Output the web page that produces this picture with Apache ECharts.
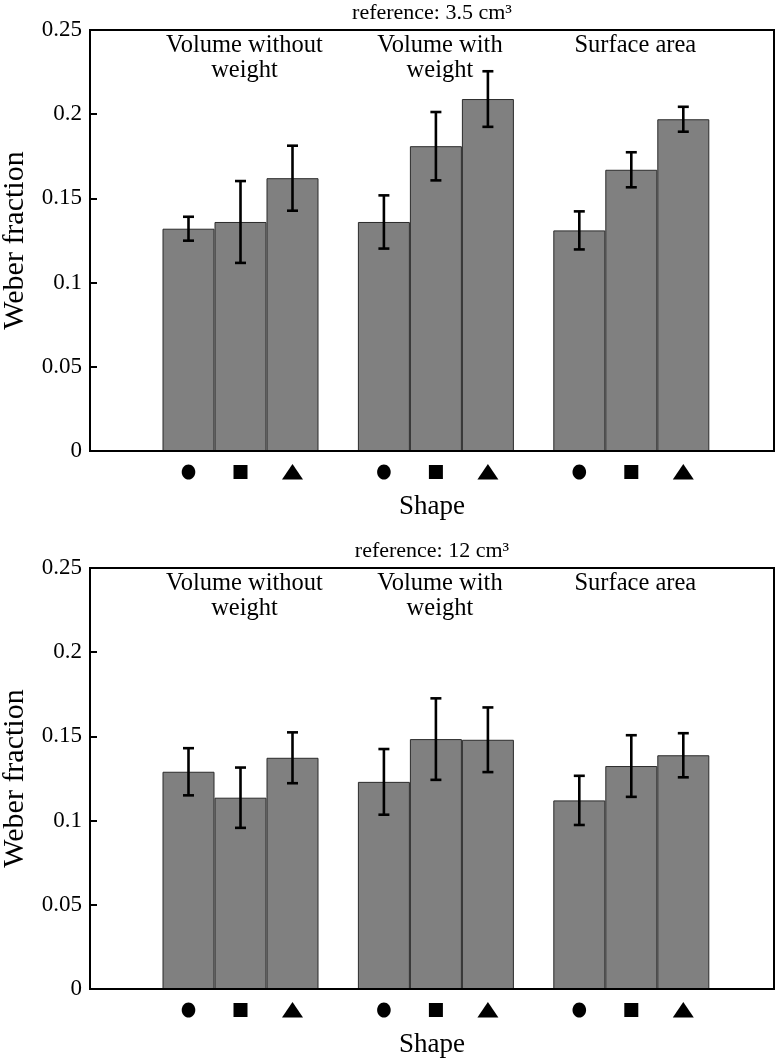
<!DOCTYPE html>
<html>
<head>
<meta charset="utf-8">
<script src="https://cdn.jsdelivr.net/npm/echarts@6/dist/echarts.min.js"></script>
<style>
html,body{margin:0;padding:0;background:#fff;}
#chart{width:776px;height:1062px;}
</style>
</head>
<body>
<div id="chart"></div>
<script>
// ---- data ----
var categories = ['Volume without\nweight', 'Volume with\nweight', 'Surface area'];
var shapes = ['circle', 'square', 'triangle'];
var yTicks = [0, 0.05, 0.1, 0.15, 0.2, 0.25];
var panelTitles = ['reference: 3.5 cm\u00b3', 'reference: 12 cm\u00b3'];
var xTitle = 'Shape';
var yTitle = 'Weber fraction';

// reference 3.5 cm3 : mean per shape across categories
var ref35Circle   = [0.132, 0.136, 0.131];
var ref35Square   = [0.136, 0.181, 0.167];
var ref35Triangle = [0.162, 0.209, 0.197];
var ref35CircleErr   = [0.0071, 0.0158, 0.0113];
var ref35SquareErr   = [0.0243, 0.0203, 0.0104];
var ref35TriangleErr = [0.0193, 0.0165, 0.0074];

// reference 12 cm3
var ref12Circle   = [0.129, 0.123, 0.112];
var ref12Square   = [0.1136, 0.1484, 0.1324];
var ref12Triangle = [0.1373, 0.148, 0.1388];
var ref12CircleErr   = [0.0140, 0.0195, 0.0146];
var ref12SquareErr   = [0.0179, 0.0242, 0.0183];
var ref12TriangleErr = [0.0151, 0.0192, 0.0131];

// ---- layout / style ----
var FONT = 'Liberation Serif';
var BAR_W = 52;
var BOX_L = 90, BOX_W = 684;
var DATA_L = 142.8, DATA_W = 586.2;
var PANEL_TOPS = [30, 568];
var PANEL_H = 421;
var BAR_FILL = '#808080';
var BAR_EDGE = '#2b2b2b';

var panels = [
  {means: [ref35Circle, ref35Square, ref35Triangle], errs: [ref35CircleErr, ref35SquareErr, ref35TriangleErr]},
  {means: [ref12Circle, ref12Square, ref12Triangle], errs: [ref12CircleErr, ref12SquareErr, ref12TriangleErr]}
];

var grids = [], xAxes = [], yAxes = [], series = [], graphics = [];

function errRender(params, api) {
  var g = api.value(0), s = api.value(1), m = api.value(2), e = api.value(3);
  var hi = api.coord([g, m + e]);
  var lo = api.coord([g, m - e]);
  var x = hi[0] + (s - 1) * BAR_W;
  var cap = 5.5;
  var st = {stroke: '#000', lineWidth: 2.6};
  return {
    type: 'group',
    children: [
      {type: 'line', shape: {x1: x, y1: hi[1], x2: x, y2: lo[1]}, style: st},
      {type: 'line', shape: {x1: x - cap, y1: hi[1], x2: x + cap, y2: hi[1]}, style: st},
      {type: 'line', shape: {x1: x - cap, y1: lo[1], x2: x + cap, y2: lo[1]}, style: st}
    ]
  };
}

function symRender(params, api) {
  var g = api.value(0), s = api.value(1);
  var p = api.coord([g, 0]);
  var x = p[0] + (s - 1) * BAR_W;
  var y = p[1] + 21;
  var st = {fill: '#000'};
  if (shapes[s] === 'circle') {
    return {type: 'ellipse', shape: {cx: x, cy: y, rx: 6.8, ry: 7.6}, style: st};
  } else if (shapes[s] === 'square') {
    return {type: 'rect', shape: {x: x - 7, y: y - 7, width: 14, height: 14}, style: st};
  }
  return {type: 'polygon', shape: {points: [[x, y - 8], [x - 10.5, y + 7.5], [x + 10.5, y + 7.5]]}, style: st};
}

panels.forEach(function (pn, pi) {
  var top = PANEL_TOPS[pi];
  var gBox = pi * 2, gData = pi * 2 + 1;
  grids.push({left: BOX_L, width: BOX_W, top: top, height: PANEL_H, show: true,
              borderColor: '#000', borderWidth: 2, backgroundColor: 'transparent',
              containLabel: false, outerBoundsMode: 'none'});
  grids.push({left: DATA_L, width: DATA_W, top: top, height: PANEL_H,
              containLabel: false, outerBoundsMode: 'none'});

  // box axes
  xAxes.push({
    gridIndex: gBox, type: 'value', min: 0, max: 1, z: 10,
    axisLine: {show: true, lineStyle: {color: '#000', width: 2}},
    axisTick: {show: false}, axisLabel: {show: false}, splitLine: {show: false},
    name: xTitle, nameLocation: 'middle', nameGap: 42,
    nameTextStyle: {fontFamily: FONT, fontSize: 27, color: '#000'}
  });
  yAxes.push({
    gridIndex: gBox, type: 'value', min: yTicks[0], max: yTicks[yTicks.length - 1], interval: 0.05,
    axisLine: {show: true, lineStyle: {color: '#000', width: 2}},
    axisTick: {show: true, inside: true, length: 7, lineStyle: {color: '#000', width: 2}},
    axisLabel: {fontFamily: FONT, fontSize: 23, color: '#000', margin: 8},
    splitLine: {show: false},
    name: yTitle, nameLocation: 'middle', nameGap: 60,
    nameTextStyle: {fontFamily: FONT, fontSize: 30, color: '#000'}
  });
  // data axes
  xAxes.push({
    gridIndex: gData, type: 'category', data: categories, position: 'top',
    axisLine: {show: false}, axisTick: {show: false}, splitLine: {show: false},
    axisLabel: {inside: true, margin: 3, fontFamily: FONT, fontSize: 24.5, lineHeight: 25, color: '#000',
                interval: 0, padding: [0, 0, 0, 8]}
  });
  yAxes.push({
    gridIndex: gData, type: 'value', min: yTicks[0], max: yTicks[yTicks.length - 1], show: false
  });

  for (var s = 0; s < 3; s++) {
    series.push({
      type: 'bar', name: shapes[s], xAxisIndex: gData, yAxisIndex: gData,
      data: pn.means[s], barWidth: BAR_W, barGap: '0%',
      itemStyle: {color: BAR_FILL, borderColor: BAR_EDGE, borderWidth: 1},
      animation: false, z: 2
    });
  }
  var errData = [], symData = [];
  for (var g = 0; g < categories.length; g++) {
    for (var s2 = 0; s2 < 3; s2++) {
      errData.push([g, s2, pn.means[s2][g], pn.errs[s2][g]]);
      symData.push([g, s2]);
    }
  }
  series.push({type: 'custom', xAxisIndex: gData, yAxisIndex: gData, renderItem: errRender,
               data: errData, z: 5, animation: false, clip: false, encode: {x: 0, y: 2}});
  series.push({type: 'custom', xAxisIndex: gData, yAxisIndex: gData, renderItem: symRender,
               data: symData, z: 5, animation: false, clip: false, encode: {x: 0}});

  graphics.push({type: 'text', x: BOX_L + BOX_W / 2, y: top - 28,
                 style: {text: panelTitles[pi], fontFamily: FONT, fontSize: 22, fill: '#000',
                         textAlign: 'center', textVerticalAlign: 'top'}});
});

var chart = echarts.init(document.getElementById('chart'), null, {renderer: 'canvas'});
chart.setOption({
  animation: false,
  backgroundColor: '#fff',
  grid: grids,
  xAxis: xAxes,
  yAxis: yAxes,
  series: series,
  graphic: graphics
});
</script>
</body>
</html>
